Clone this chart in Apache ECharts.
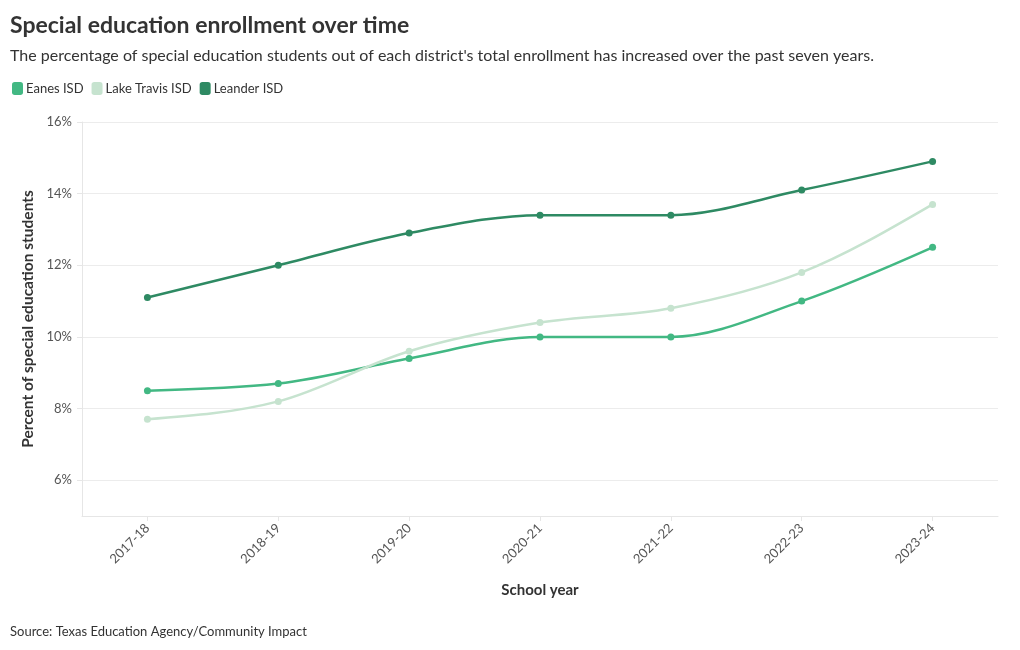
<!DOCTYPE html>
<html>
<head>
<meta charset="utf-8">
<script src="https://cdn.jsdelivr.net/npm/echarts@6/dist/echarts.min.js"></script>
<style>
html,body{margin:0;padding:0;background:#fff;}
#chart{width:1020px;height:650px;}
</style>
</head>
<body>
<div id="chart"></div>
<script>
const categories = ['2017-18','2018-19','2019-20','2020-21','2021-22','2022-23','2023-24'];
const seriesNames = ['Eanes ISD','Lake Travis ISD','Leander ISD'];
const eanes = [8.5, 8.7, 9.4, 10.0, 10.0, 11.0, 12.5];
const lakeTravis = [7.7, 8.2, 9.6, 10.4, 10.8, 11.8, 13.7];
const leander = [11.1, 12.0, 12.9, 13.4, 13.4, 14.1, 14.9];
const colors = ['#42b883', '#c6e3cf', '#2e8a63'];
const FONT = 'Lato';

const chart = echarts.init(document.getElementById('chart'));

// monotone-x cubic (as d3.curveMonotoneX) computed in pixel space from api.coord
function sgn(x){ return x < 0 ? -1 : 1; }
function monotoneSegments(pts) {
  const n = pts.length;
  const h = [], s = [];
  for (let i = 0; i < n - 1; i++) {
    h.push(pts[i+1][0] - pts[i][0]);
    s.push((pts[i+1][1] - pts[i][1]) / h[i]);
  }
  const t = new Array(n);
  for (let i = 1; i < n - 1; i++) {
    const h0 = h[i-1], h1 = h[i], s0 = s[i-1], s1 = s[i];
    const p = (s0 * h1 + s1 * h0) / (h0 + h1);
    t[i] = (sgn(s0) + sgn(s1)) * Math.min(Math.abs(s0), Math.abs(s1), 0.5 * Math.abs(p)) || 0;
  }
  t[0] = n > 2 ? (3 * s[0] - t[1]) / 2 : s[0];
  t[n-1] = n > 2 ? (3 * s[n-2] - t[n-2]) / 2 : s[0];
  const segs = [];
  for (let i = 0; i < n - 1; i++) {
    const dx = h[i] / 3;
    segs.push({
      x1: pts[i][0], y1: pts[i][1],
      cpx1: pts[i][0] + dx, cpy1: pts[i][1] + dx * t[i],
      cpx2: pts[i+1][0] - dx, cpy2: pts[i+1][1] - dx * t[i+1],
      x2: pts[i+1][0], y2: pts[i+1][1]
    });
  }
  return segs;
}
function pointSeries(name, data, color) {
  return {
    name, type: 'line', data, smooth: false, z: 3,
    symbol: 'circle', symbolSize: 7, showSymbol: true,
    lineStyle: {width: 0, opacity: 0, color}, itemStyle: {color},
    emphasis: {disabled: true}
  };
}
function curveSeries(name, data, color) {
  return {
    name, type: 'custom', z: 2, silent: true,
    data: data.map((v, i) => [i, v]),
    encode: {x: 0, y: 1},
    renderItem: function (params, api) {
      if (params.dataIndex !== 0) return null;
      const pts = data.map((v, i) => api.coord([i, v]));
      return {
        type: 'group',
        children: monotoneSegments(pts).map(sh => ({
          type: 'bezierCurve', shape: sh,
          style: {stroke: color, lineWidth: 2.5, fill: null}
        }))
      };
    }
  };
}
chart.setOption({
  animation: false,
  textStyle: {fontFamily: FONT},
  title: [
    {text: 'Special education enrollment over time', left: 10, top: 14, padding: 0,
     textStyle: {fontFamily: FONT, fontSize: 23, fontWeight: 'bold', color: '#333'}},
    {text: "The percentage of special education students out of each district's total enrollment has increased over the past seven years.",
     left: 10, top: 48, padding: 0, textStyle: {fontFamily: FONT, fontSize: 16, fontWeight: 'normal', color: '#333'}},
    {text: 'Source: Texas Education Agency/Community Impact', left: 10, top: 625, padding: 0,
     textStyle: {fontFamily: FONT, fontSize: 13, fontWeight: 'normal', color: '#333'}}
  ],
  legend: {
    left: 12, top: 82, padding: 0, icon: 'roundRect', itemWidth: 11, itemHeight: 13, itemGap: 8,
    data: seriesNames,
    textStyle: {fontFamily: FONT, fontSize: 13, color: '#333', padding: [0,0,0,-2]}
  },
  grid: {left: 82, right: 22, top: 122, bottom: 134, containLabel: false},
  xAxis: {
    type: 'category', data: categories, boundaryGap: true,
    name: 'School year', nameLocation: 'middle', nameGap: 67,
    nameTextStyle: {fontFamily: FONT, fontSize: 15, fontWeight: 'bold', color: '#333'},
    axisLine: {show: true, lineStyle: {color: '#e6e6e6'}},
    axisTick: {show: true, alignWithLabel: true, length: 5, lineStyle: {color: '#e6e6e6'}},
    axisLabel: {rotate: 45, fontFamily: FONT, fontSize: 13, color: '#555', margin: 10},
    splitLine: {show: false}
  },
  yAxis: {
    type: 'value', min: 5, max: 16, splitNumber: 5,
    name: 'Percent of special education students', nameLocation: 'middle', nameGap: 46,
    nameTextStyle: {fontFamily: FONT, fontSize: 15.5, fontWeight: 'bold', color: '#333'},
    axisLine: {show: true, lineStyle: {color: '#e6e6e6'}},
    axisTick: {show: true, length: 5, lineStyle: {color: '#e6e6e6'}},
    axisLabel: {fontFamily: FONT, fontSize: 13, color: '#555', margin: 10, showMinLabel: false,
      formatter: v => (v % 2 === 0 ? v + '%' : '')},
    splitLine: {show: true, lineStyle: {color: '#ececec', width: 1}}
  },
  series: [
    pointSeries(seriesNames[0], eanes, colors[0]),
    pointSeries(seriesNames[1], lakeTravis, colors[1]),
    pointSeries(seriesNames[2], leander, colors[2]),
    curveSeries(seriesNames[0], eanes, colors[0]),
    curveSeries(seriesNames[1], lakeTravis, colors[1]),
    curveSeries(seriesNames[2], leander, colors[2])
  ]
});
</script>
</body>
</html>
